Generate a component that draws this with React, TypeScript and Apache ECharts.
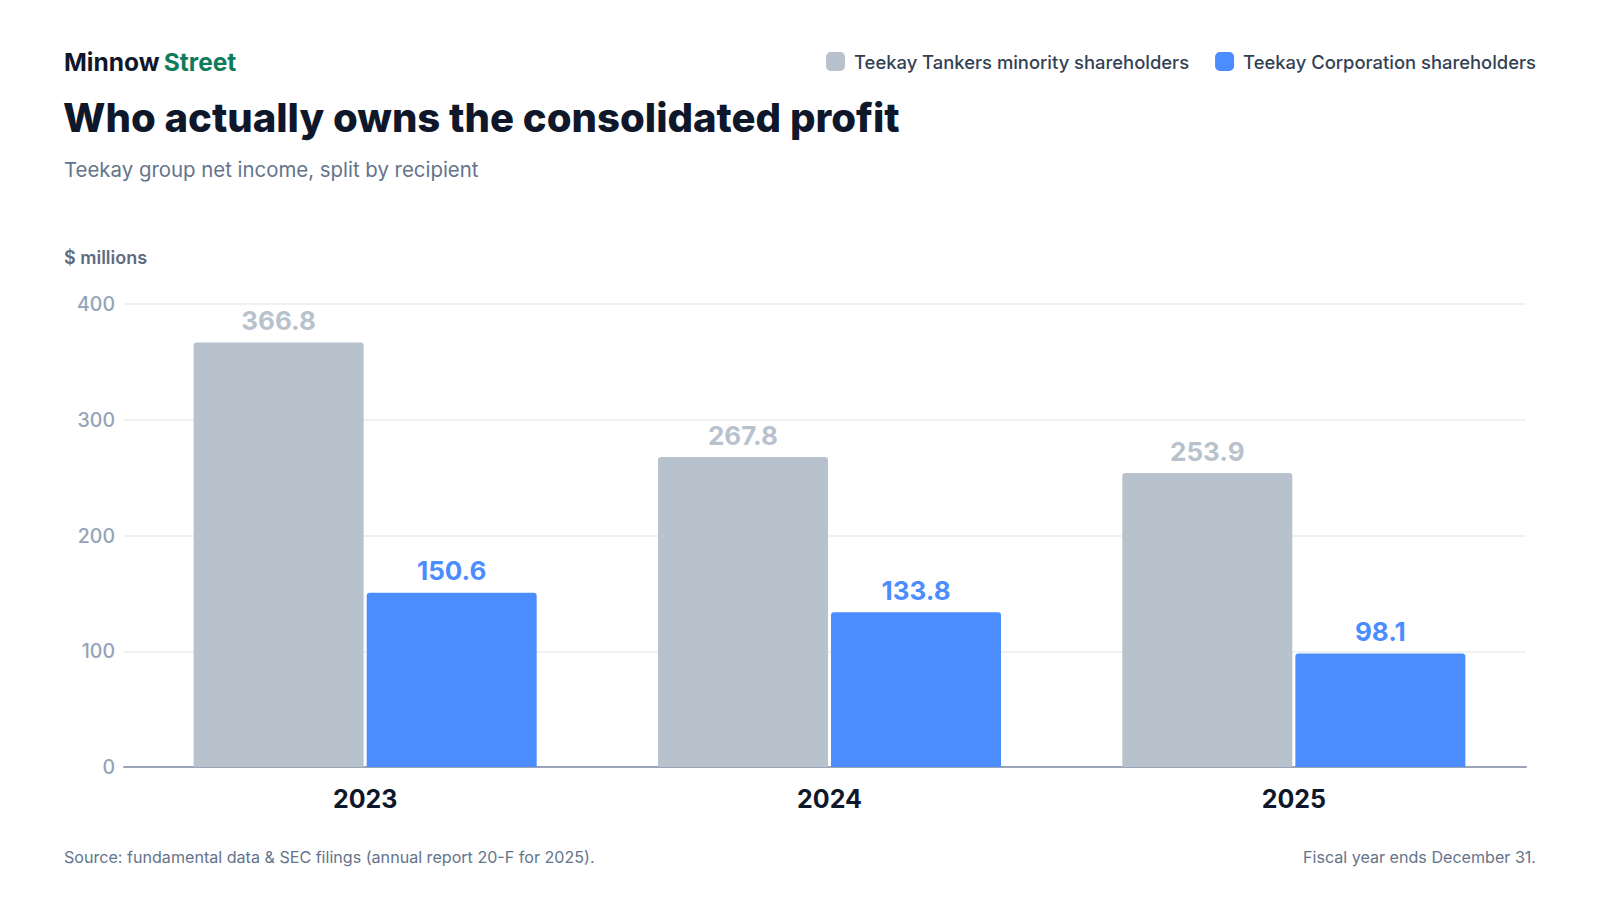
import React, { useEffect, useRef } from "react";
import * as echarts from "echarts";

const years = ["2023", "2024", "2025"];
const minorityValues = [366.8, 267.8, 253.9];
const corporationValues = [150.6, 133.8, 98.1];
const yTicks = [0, 100, 200, 300, 400];

const seriesNames = ["Teekay Tankers minority shareholders", "Teekay Corporation shareholders"];
const FONT = "Inter, 'Noto Sans', sans-serif";
const GRAY = "#b8c2cd";
const BLUE = "#4b8dff";

export default function App() {
  const ref = useRef<HTMLDivElement>(null);
  useEffect(() => {
    if (!ref.current) return;
    const chart = echarts.init(ref.current, undefined, { renderer: "svg" });
    const yMin = yTicks[0];
    const yMax = yTicks[yTicks.length - 1];
    const yInterval = yTicks[1] - yTicks[0];
    chart.setOption({
      animation: false,
      backgroundColor: "#ffffff",
      textStyle: { fontFamily: FONT },
      title: [
        {
          text: "{a|Minnow} {b|Street}",
          left: 64,
          top: 49,
          padding: 0,
          textStyle: {
            fontFamily: FONT,
            rich: {
              a: { fontFamily: FONT, fontSize: 24.5, fontWeight: 700, color: "#0f172a" },
              b: { fontFamily: FONT, fontSize: 24.5, fontWeight: 700, color: "#0e7c5a" },
            },
          },
        },
        {
          text: "Who actually owns the consolidated profit",
          left: 63,
          top: 97,
          padding: 0,
          textStyle: { fontFamily: FONT, fontSize: 40.1, fontWeight: 800, color: "#0f172a" },
        },
        {
          text: "Teekay group net income, split by recipient",
          left: 64,
          top: 159,
          padding: 0,
          textStyle: { fontFamily: FONT, fontSize: 20.4, fontWeight: 400, color: "#64748b" },
        },
        {
          text: "$ millions",
          left: 64,
          top: 248,
          padding: 0,
          textStyle: { fontFamily: FONT, fontSize: 18, fontWeight: 600, color: "#5f6b80" },
        },
        {
          text: "Source: fundamental data & SEC filings (annual report 20-F for 2025).",
          left: 64,
          top: 849,
          padding: 0,
          textStyle: { fontFamily: FONT, fontSize: 16.1, fontWeight: 400, color: "#64748b" },
        },
        {
          text: "Fiscal year ends December 31.",
          right: 64,
          top: 849,
          padding: 0,
          textStyle: { fontFamily: FONT, fontSize: 16.1, fontWeight: 400, color: "#64748b" },
        },
      ],
      legend: {
        data: seriesNames,
        right: 64,
        top: 52,
        padding: 0,
        icon: "roundRect",
        itemWidth: 19,
        itemHeight: 19,
        itemGap: 26,
        selectedMode: false,
        textStyle: {
          fontFamily: FONT,
          fontSize: 18.4,
          fontWeight: 500,
          color: "#334155",
          padding: [0, 0, 0, 4],
        },
      },
      grid: [
        { left: 124, right: 74, top: 304, bottom: 133, containLabel: false },
        { left: 133, right: 74, top: 304, bottom: 133, containLabel: false },
      ],
      xAxis: [
        {
          gridIndex: 0,
          type: "value",
          min: 0,
          max: 1,
          axisLine: { show: true, lineStyle: { color: "#9ba5b7", width: 2 } },
          axisTick: { show: false },
          axisLabel: { show: false },
          splitLine: { show: false },
        },
        {
          gridIndex: 1,
          type: "category",
          data: years,
          axisLine: { show: false },
          axisTick: { show: false },
          axisLabel: {
            margin: 19,
            fontFamily: FONT,
            fontSize: 25,
            fontWeight: 700,
            color: "#0f172a",
          },
        },
      ],
      yAxis: [
        {
          gridIndex: 0,
          type: "value",
          min: yMin,
          max: yMax,
          interval: yInterval,
          axisLine: { show: false },
          axisTick: { show: false },
          axisLabel: {
            margin: 9,
            fontFamily: FONT,
            fontSize: 19.5,
            fontWeight: 500,
            color: "#94a3b8",
          },
          splitLine: { show: true, lineStyle: { color: "#eaeef2", width: 1.5 } },
        },
        {
          gridIndex: 1,
          type: "value",
          min: yMin,
          max: yMax,
          interval: yInterval,
          axisLine: { show: false },
          axisTick: { show: false },
          axisLabel: { show: false },
          splitLine: { show: false },
        },
      ],
      series: [
        {
          name: seriesNames[0],
          type: "bar",
          xAxisIndex: 1,
          yAxisIndex: 1,
          data: minorityValues,
          barWidth: 170,
          barGap: "1.8%",
          itemStyle: { color: GRAY, borderRadius: [3, 3, 0, 0] },
          label: {
            show: true,
            position: "top",
            distance: 9,
            fontFamily: FONT,
            fontSize: 26,
            fontWeight: 700,
            color: GRAY,
            formatter: (p: any) => Number(p.value).toFixed(1),
          },
          z: 3,
        },
        {
          name: seriesNames[1],
          type: "bar",
          xAxisIndex: 1,
          yAxisIndex: 1,
          data: corporationValues,
          barWidth: 170,
          barGap: "1.8%",
          itemStyle: { color: BLUE, borderRadius: [3, 3, 0, 0] },
          label: {
            show: true,
            position: "top",
            distance: 9,
            fontFamily: FONT,
            fontSize: 26,
            fontWeight: 700,
            color: BLUE,
            formatter: (p: any) => Number(p.value).toFixed(1),
          },
          z: 3,
        },
      ],
    });
    return () => chart.dispose();
  }, []);
  return (
    <div
      ref={ref}
      style={{ position: "fixed", left: 0, top: 0, width: 1600, height: 900, background: "#fff" }}
    />
  );
}
